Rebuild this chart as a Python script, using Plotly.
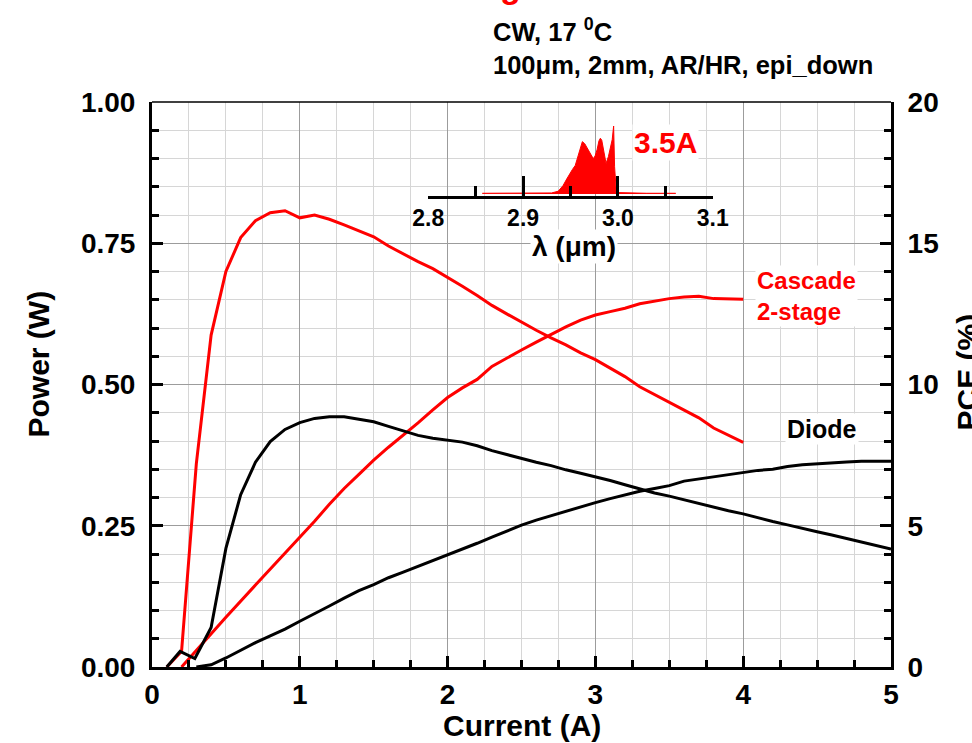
import plotly.graph_objects as go

# ---------------- data ----------------
# Cascade 2-stage: output power (W) vs current (A)
cur_cas_pow = [0.2, 0.3, 0.5, 0.7, 0.9, 1.0, 1.1, 1.2, 1.3, 1.4, 1.5, 1.6, 1.7, 1.8, 1.9,
               2.0, 2.1, 2.2, 2.3, 2.4, 2.5, 2.6, 2.7, 2.8, 2.9, 3.0, 3.1, 3.2, 3.3, 3.4,
               3.5, 3.6, 3.7, 3.8, 3.9, 4.0]
pow_cas = [0.0, 0.03, 0.088, 0.145, 0.202, 0.229, 0.258, 0.288, 0.316, 0.341, 0.366, 0.389,
           0.41, 0.432, 0.455, 0.477, 0.494, 0.509, 0.532, 0.547, 0.561, 0.575, 0.589, 0.602,
           0.614, 0.623, 0.629, 0.635, 0.643, 0.648, 0.652, 0.655, 0.656, 0.652, 0.651, 0.651]

# Cascade 2-stage: PCE (%) vs current (A)
cur_cas_pce = [0.1, 0.2, 0.3, 0.4, 0.5, 0.6, 0.7, 0.8, 0.9, 1.0, 1.1, 1.2, 1.3, 1.4, 1.5,
               1.6, 1.7, 1.8, 1.9, 2.0, 2.1, 2.2, 2.3, 2.4, 2.5, 2.6, 2.7, 2.8, 2.9, 3.0,
               3.1, 3.2, 3.3, 3.4, 3.5, 3.6, 3.7, 3.8, 3.9, 4.0]
pce_cas = [0.0, 0.55, 7.2, 11.75, 14.0, 15.2, 15.8, 16.08, 16.15, 15.9, 16.0, 15.85, 15.65,
           15.45, 15.23, 14.9, 14.62, 14.35, 14.1, 13.8, 13.48, 13.15, 12.8, 12.5, 12.2,
           11.92, 11.65, 11.4, 11.12, 10.88, 10.58, 10.28, 9.92, 9.65, 9.39, 9.1, 8.82,
           8.46, 8.2, 7.95]

# Diode: output power (W) vs current (A)
cur_dio_pow = [0.3, 0.4, 0.5, 0.6, 0.7, 0.8, 0.9, 1.0, 1.1, 1.2, 1.3, 1.4, 1.5, 1.6, 1.7,
               1.8, 1.9, 2.0, 2.1, 2.2, 2.3, 2.4, 2.5, 2.6, 2.7, 2.8, 2.9, 3.0, 3.1, 3.2,
               3.3, 3.4, 3.5, 3.6, 3.7, 3.8, 3.9, 4.0, 4.1, 4.2, 4.3, 4.4, 4.5, 4.6, 4.7,
               4.8, 4.9, 5.0]
pow_dio = [0.0, 0.004, 0.016, 0.03, 0.043, 0.055, 0.067, 0.081, 0.094, 0.108, 0.122, 0.135,
           0.146, 0.158, 0.168, 0.178, 0.188, 0.199, 0.209, 0.219, 0.23, 0.241, 0.251, 0.26,
           0.268, 0.276, 0.284, 0.291, 0.298, 0.305, 0.311, 0.316, 0.321, 0.329, 0.333,
           0.337, 0.341, 0.345, 0.348, 0.35, 0.355, 0.358, 0.36, 0.362, 0.363, 0.364, 0.364,
           0.364]

# Diode: PCE (%) vs current (A)
cur_dio_pce = [0.1, 0.19, 0.29, 0.4, 0.5, 0.6, 0.7, 0.8, 0.9, 1.0, 1.1, 1.2, 1.3, 1.4, 1.5,
               1.6, 1.7, 1.8, 1.9, 2.0, 2.1, 2.2, 2.3, 2.4, 2.5, 2.6, 2.7, 2.8, 2.9, 3.0,
               3.1, 3.2, 3.3, 3.4, 3.5, 3.6, 3.7, 3.8, 3.9, 4.0, 4.1, 4.2, 4.3, 4.4, 4.5,
               4.6, 4.7, 4.8, 4.9, 5.0]
pce_dio = [0.0, 0.55, 0.3, 1.4, 4.2, 6.1, 7.25, 7.98, 8.41, 8.65, 8.8, 8.86, 8.86, 8.78, 8.68,
           8.52, 8.36, 8.2, 8.1, 8.03, 7.96, 7.83, 7.66, 7.52, 7.38, 7.25, 7.13, 6.98, 6.86,
           6.74, 6.6, 6.45, 6.3, 6.16, 6.05, 5.92, 5.8, 5.65, 5.53, 5.42, 5.28, 5.15, 5.03,
           4.92, 4.79, 4.67, 4.55, 4.43, 4.32, 4.18]

# Inset: emission spectrum at 3.5 A (normalised intensity envelope)
spec_wl = [2.857, 2.900, 2.930, 2.937, 2.942, 2.946, 2.949, 2.952, 2.955, 2.958, 2.960,
           2.9625, 2.965, 2.968, 2.971, 2.974, 2.976, 2.978, 2.980, 2.9815, 2.983, 2.985,
           2.9875, 2.990, 2.992, 2.994, 2.9955, 2.9965, 2.998, 3.000, 3.030, 3.061]
spec_int = [0.01, 0.01, 0.015, 0.04, 0.12, 0.22, 0.30, 0.36, 0.42, 0.55, 0.66, 0.77, 0.74,
            0.66, 0.58, 0.52, 0.56, 0.65, 0.78, 0.82, 0.79, 0.62, 0.45, 0.55, 0.66, 0.80,
            1.00, 0.40, 0.10, 0.02, 0.01, 0.01]

# ---------------- styling ----------------
FONT = "Liberation Sans, Arial, sans-serif"
RED = "#ff0000"
BLACK = "#000000"
W, H = 972, 743
ML, MR, MT, MB = 152, 81, 102, 76
PW, PH = W - ML - MR, H - MT - MB


def ax(px):
    return (px - ML) / PW


def ay(py):
    return (H - MB - py) / PH


fig = go.Figure()
line_w = 3
fig.add_trace(go.Scatter(x=cur_cas_pow, y=pow_cas, mode="lines",
                         line=dict(color=RED, width=line_w), xaxis="x", yaxis="y"))
fig.add_trace(go.Scatter(x=cur_dio_pow, y=pow_dio, mode="lines",
                         line=dict(color=BLACK, width=line_w), xaxis="x", yaxis="y"))
fig.add_trace(go.Scatter(x=cur_cas_pce, y=pce_cas, mode="lines",
                         line=dict(color=RED, width=line_w), xaxis="x", yaxis="y2"))
fig.add_trace(go.Scatter(x=cur_dio_pce, y=pce_dio, mode="lines",
                         line=dict(color=BLACK, width=line_w), xaxis="x", yaxis="y2"))
fig.add_trace(go.Scatter(x=spec_wl, y=spec_int, mode="lines", fill="tozeroy",
                         fillcolor=RED, line=dict(color=RED, width=1),
                         xaxis="x3", yaxis="y3"))

tickfont = dict(family=FONT, size=28, color=BLACK, weight="bold")
MAJ_GRID = "#9c9c9c"
MIN_GRID = "#d6d6d6"

fig.update_layout(
    width=W, height=H,
    margin=dict(l=ML, r=MR, t=MT, b=MB, pad=0),
    paper_bgcolor="white",
    plot_bgcolor="rgba(0,0,0,0)",
    showlegend=False,
    font=dict(family=FONT, color=BLACK),
    xaxis=dict(
        range=[0, 5], domain=[0, 1], anchor="y", tick0=0, dtick=1,
        showline=True, linewidth=3, linecolor=BLACK, mirror=False,
        ticks="inside", ticklen=11, tickwidth=2.5, tickcolor=BLACK,
        showgrid=True, gridcolor=MAJ_GRID, gridwidth=1.3, zeroline=False,
        tickfont=tickfont, ticklabelstandoff=0,
        minor=dict(dtick=0.25, ticks="inside", ticklen=7, tickwidth=2.5,
                   tickcolor=BLACK, showgrid=True, gridcolor=MIN_GRID, gridwidth=1.3),
    ),
    yaxis=dict(
        range=[0, 1], domain=[0, 1], anchor="x", tick0=0, dtick=0.25, tickformat=".2f",
        showline=True, linewidth=3, linecolor=BLACK,
        ticks="inside", ticklen=11, tickwidth=2.5, tickcolor=BLACK,
        showgrid=True, gridcolor=MAJ_GRID, gridwidth=1.3, zeroline=False,
        tickfont=tickfont, ticklabelstandoff=8,
        minor=dict(dtick=0.05, ticks="inside", ticklen=7, tickwidth=2.5,
                   tickcolor=BLACK, showgrid=True, gridcolor=MIN_GRID, gridwidth=1.3),
    ),
    yaxis2=dict(
        range=[0, 20], overlaying="y", side="right", anchor="x", tick0=0, dtick=5,
        showline=True, linewidth=3, linecolor=BLACK,
        ticks="inside", ticklen=11, tickwidth=2.5, tickcolor=BLACK,
        showgrid=False, zeroline=False, tickfont=tickfont, ticklabelstandoff=8,
        minor=dict(dtick=1, ticks="inside", ticklen=7, tickwidth=2.5,
                   tickcolor=BLACK, showgrid=False),
    ),
    xaxis3=dict(
        domain=[ax(428.3), ax(712.7)], anchor="y3", range=[2.8, 3.1],
        tick0=2.8, dtick=0.1, tickformat=".1f",
        showline=True, linewidth=2.5, linecolor=BLACK,
        ticks="inside", ticklen=20, tickwidth=2.5, tickcolor=BLACK,
        showgrid=False, zeroline=False,
        tickfont=dict(family=FONT, size=23, color=BLACK, weight="bold"),
        ticklabelstandoff=0,
        minor=dict(dtick=0.05, ticks="inside", ticklen=10, tickwidth=2.5,
                   tickcolor=BLACK, showgrid=False),
    ),
    yaxis3=dict(domain=[ay(196), ay(126)], anchor="x3", range=[-0.03, 1.0],
                visible=False),
)

fig.add_shape(type="line", xref="paper", yref="paper", x0=0, x1=1, y0=1, y1=1,
              line=dict(color=BLACK, width=1.5), layer="above")


def txt(text, x, y, size, color=BLACK, **kw):
    fig.add_annotation(text=text, x=x, y=y, xref="paper", yref="paper",
                       showarrow=False,
                       font=dict(family=FONT, size=size, color=color, weight="bold"),
                       **kw)


txt("g", ax(510), ay(7.5), 34, RED, xanchor="center", yanchor="bottom")
txt("CW, 17 <sup>0</sup>C", ax(491), ay(48), 25.5, xanchor="left", yanchor="bottom")
txt("100\u03bcm, 2mm, AR/HR, epi_down", ax(491), ay(81), 25.5,
    xanchor="left", yanchor="bottom")
txt("3.5A", ax(632), ay(160.7), 30, RED, xanchor="left", yanchor="bottom",
    bgcolor="white")
txt("\u03bb (\u03bcm)", ax(574), ay(264), 28, xanchor="center", yanchor="bottom",
    bgcolor="white")
txt("Cascade<br>2-stage", ax(755), ay(264.5), 24, RED, xanchor="left", yanchor="top",
    align="left", bgcolor="white")
txt("Diode", ax(785), ay(445.3), 25, xanchor="left", yanchor="bottom", bgcolor="white")
txt("Current (A)", ax(521.5), ay(707), 30, xanchor="center", yanchor="top")
txt("Power (W)", ax(19), ay(364), 30, xanchor="left", yanchor="middle", textangle=-90)
txt("PCE (%)", ax(948), ay(372), 30, xanchor="left", yanchor="middle", textangle=-90)

fig.write_html("out.html")
